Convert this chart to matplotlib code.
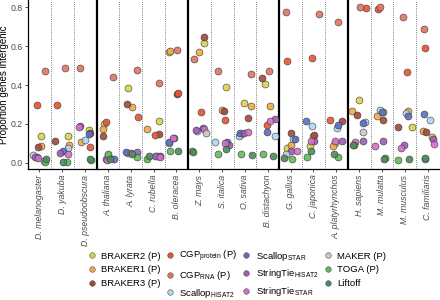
import numpy as np
import matplotlib
matplotlib.use("Agg")
import matplotlib.pyplot as plt
from matplotlib.lines import Line2D

plt.rcParams['font.family'] = ['Liberation Sans', 'DejaVu Sans']
plt.rcParams['mathtext.fontset'] = 'custom'
plt.rcParams['mathtext.rm'] = 'Liberation Sans'
plt.rcParams['mathtext.it'] = 'Liberation Sans:italic'

species = ["D. melanogaster", "D. yakuba", "D. pseudoobscura",
           "A. thaliana", "A. lyrata", "C. rubella", "B. oleracea",
           "Z. mays", "S. italica", "O. sativa", "B. distachyon",
           "G. gallus", "C. japonica", "A. platyrhynchos",
           "H. sapiens", "M. mulatta", "M. musculus", "C. familiaris"]
group_sizes = [3, 4, 4, 3, 4]

nan = np.nan
braker2 = [0.14, 0.137, 0.17, 0.20, 0.385, 0.217, 0.57, 0.618, 0.39, 0.308, 0.407, 0.077, 0.085, 0.103, 0.325, 0.26, 0.183, 0.131]
braker1 = [0.085, 0.094, 0.106, 0.174, 0.287, 0.176, 0.575, 0.572, 0.273, 0.294, 0.29, 0.09, 0.14, 0.085, 0.265, 0.239, 0.265, 0.166]
braker3 = [0.08, 0.11, 0.155, 0.137, 0.304, 0.15, 0.355, 0.646, 0.265, 0.23, 0.436, 0.154, 0.145, 0.215, 0.248, 0.218, 0.183, 0.16]
cgp_protein = [0.30, 0.30, 0.08, 0.21, 0.236, 0.145, 0.36, 0.26, 0.222, 0.145, 0.193, 0.526, 0.538, 0.222, 0.798, 0.79, 0.465, 0.59]
cgp_rna = [0.475, 0.49, 0.49, 0.44, 0.478, 0.413, 0.58, 0.533, 0.475, 0.456, 0.473, 0.774, 0.766, 0.726, 0.80, 0.80, 0.749, 0.687]
scallop_hisat2 = [0.04, 0.075, 0.116, 0.025, 0.05, 0.034, 0.10, 0.165, 0.106, 0.14, 0.14, 0.123, 0.19, 0.18, 0.21, 0.273, 0.256, 0.222]
scallop_star = [0.03, 0.06, 0.15, 0.017, 0.055, 0.034, 0.106, 0.18, 0.108, 0.155, 0.157, 0.12, 0.213, 0.196, 0.205, 0.26, 0.24, 0.251]
stringtie_hisat2 = [0.03, 0.048, 0.19, 0.02, 0.055, 0.034, 0.128, 0.17, 0.094, 0.153, 0.226, 0.06, 0.11, 0.11, 0.11, 0.11, 0.089, 0.12]
stringtie_star = [0.025, 0.043, 0.185, 0.013, 0.05, 0.03, 0.13, 0.176, 0.10, 0.157, 0.217, 0.063, 0.11, 0.11, 0.105, 0.088, 0.077, 0.099]
maker = [0.01, nan, nan, 0.039, nan, nan, nan, 0.154, nan, nan, nan, 0.043, nan, nan, 0.159, nan, nan, nan]
toga = [0.005, 0.005, 0.013, 0.043, 0.03, 0.017, 0.06, 0.06, 0.043, 0.043, 0.043, 0.022, 0.03, 0.03, 0.09, 0.026, 0.013, 0.02]
liftoff = [0.02, 0.005, 0.017, 0.017, 0.043, 0.034, 0.06, 0.055, 0.073, 0.039, 0.035, 0.026, 0.063, 0.046, 0.09, 0.02, 0.022, 0.023]

methods = ["BRAKER2 (P)", "BRAKER1 (P)", "BRAKER3 (P)",
           r"CGP$_{\mathregular{protein}}$ (P)", r"CGP$_{\mathregular{RNA}}$ (P)", r"Scallop$_{\mathregular{HISAT2}}$",
           r"Scallop$_{\mathregular{STAR}}$", r"StringTie$_{\mathregular{HISAT2}}$", r"StringTie$_{\mathregular{STAR}}$",
           "MAKER (P)", "TOGA (P)", "Liftoff"]
series = [braker2, braker1, braker3, cgp_protein, cgp_rna, scallop_hisat2,
          scallop_star, stringtie_hisat2, stringtie_star, maker, toga, liftoff]
colors = ["#d8d34a", "#f2a945", "#a0473d", "#e8532f", "#e07560", "#a9d9f2",
          "#5b6dbf", "#9c5bbd", "#d46fc4", "#c8c8c8", "#62bb5a", "#4d8a5b"]

fig = plt.figure(figsize=(4.4, 3.0), dpi=100)
ax = fig.add_axes([28/440, 131/300, 411/440, 169/300])

rng = np.random.default_rng(7)
xs = np.arange(len(species))
for vals, col in zip(series, colors):
    v = np.array(vals, dtype=float)
    jit = rng.uniform(-0.32, 0.32, size=len(xs))
    ax.scatter(xs + jit, v, s=25, c=col, edgecolors="#3a3a3a", linewidths=0.45,
               alpha=0.9, zorder=3)

# separators
bounds = np.cumsum(group_sizes)[:-1] - 0.5
for b in range(1, len(species)):
    xb = b - 0.5
    if np.any(np.isclose(bounds, xb)):
        ax.axvline(xb, color="black", lw=1.6, zorder=2)
    else:
        ax.axvline(xb, color="#555555", lw=0.6, ls=(0, (1, 1.6)), zorder=2)

ax.set_xlim(-0.5, len(species) - 0.5)
ax.set_ylim(-0.032, 0.838)
ax.set_yticks([0.0, 0.2, 0.4, 0.6, 0.8])
ax.set_yticklabels(["0.0", "0.2", "0.4", "0.6", "0.8"])
ax.set_xticks(xs)
ax.set_xticklabels(species, rotation=90, style="italic")
ax.tick_params(axis="both", labelsize=6.3, labelcolor="#4d4d4d", color="#333333",
               length=2.5, width=0.6, pad=1.5)
for s in ["top", "right"]:
    ax.spines[s].set_visible(False)
for s in ["left", "bottom"]:
    ax.spines[s].set_linewidth(0.9)
    ax.spines[s].set_color("black")

ax.set_ylabel("Proportion genes intergenic", fontsize=7, color="black")
ax.yaxis.set_label_coords(-0.046, 0.5)

handles = [Line2D([0], [0], marker="o", ls="none", markersize=4.0,
                  markerfacecolor=c, markeredgecolor="#555555", markeredgewidth=0.4)
           for c in colors]
fig.legend(handles, methods, ncol=4, loc="upper left",
           bbox_to_anchor=(87/440, 1 - 249/300), frameon=False,
           fontsize=6.8, handlelength=1.0, handletextpad=0.5,
           columnspacing=0.45, labelspacing=0.5, borderpad=0, borderaxespad=0)

fig.savefig("out.png", dpi=100)
